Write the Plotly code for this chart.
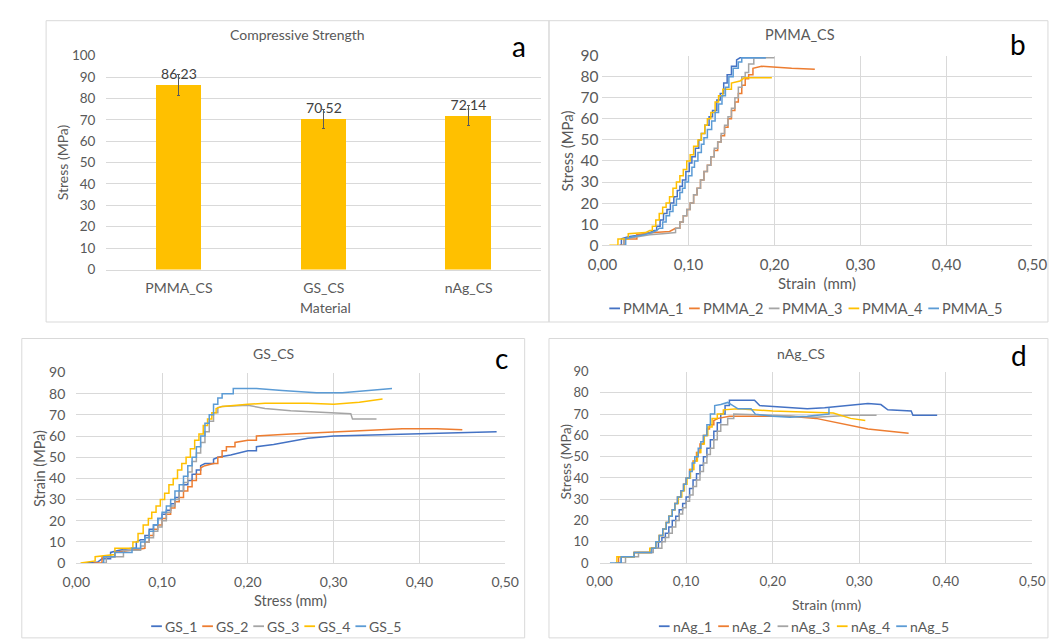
import plotly.graph_objects as go

# ---------------- data ----------------
materials = ["PMMA_CS", "GS_CS", "nAg_CS"]
cs_mean = [86.23, 70.52, 72.14]
cs_err = [5.0, 4.5, 4.6]

colors = ["#4472C4", "#ED7D31", "#A5A5A5", "#FFC000", "#5B9BD5"]

pmma_names = ["PMMA_1", "PMMA_2", "PMMA_3", "PMMA_4", "PMMA_5"]
PMMA_1_strain = [0.020, 0.022, 0.030, 0.045, 0.055, 0.060, 0.063, 0.067, 0.071, 0.075, 0.079, 0.083, 0.087, 0.090, 0.093, 0.097, 0.101, 0.104, 0.108, 0.112, 0.115, 0.119, 0.124, 0.128, 0.133, 0.137, 0.141, 0.145, 0.150, 0.156, 0.160, 0.175, 0.190]
PMMA_1_stress = [0, 3, 4, 5, 6, 7, 9, 12, 15, 17, 20, 23, 26, 28, 31, 35, 39, 42, 46, 50, 53, 57, 61, 64, 69, 72, 77, 81, 85, 88, 89, 89, 89]
PMMA_2_strain = [0.020, 0.025, 0.040, 0.060, 0.078, 0.085, 0.090, 0.094, 0.098, 0.102, 0.106, 0.110, 0.114, 0.118, 0.122, 0.126, 0.130, 0.134, 0.138, 0.142, 0.146, 0.150, 0.154, 0.158, 0.162, 0.166, 0.170, 0.175, 0.185, 0.200, 0.220, 0.247]
PMMA_2_stress = [0, 3, 5, 6, 6.5, 8, 11, 14, 17, 20, 24, 27, 31, 35, 38, 42, 45, 49, 52, 56, 60, 64, 68, 72, 76, 79, 81, 84, 85, 84.5, 84, 83.5]
PMMA_3_strain = [0.020, 0.025, 0.040, 0.055, 0.070, 0.080, 0.085, 0.090, 0.094, 0.098, 0.102, 0.106, 0.110, 0.114, 0.118, 0.122, 0.126, 0.130, 0.134, 0.138, 0.142, 0.146, 0.150, 0.154, 0.158, 0.162, 0.166, 0.170, 0.176, 0.185, 0.200]
PMMA_3_stress = [0, 3, 4, 5, 5.5, 6, 8, 11, 14, 17, 20, 24, 27, 31, 35, 38, 42, 46, 49, 53, 57, 61, 65, 70, 75, 80, 82, 86, 89, 89, 89]
PMMA_4_strain = [0.008, 0.018, 0.030, 0.050, 0.055, 0.058, 0.062, 0.066, 0.070, 0.074, 0.078, 0.082, 0.086, 0.090, 0.094, 0.098, 0.102, 0.106, 0.111, 0.115, 0.119, 0.122, 0.126, 0.131, 0.135, 0.140, 0.150, 0.160, 0.165, 0.180, 0.197]
PMMA_4_stress = [0, 3, 5.5, 6, 7, 9, 12, 15, 18, 20, 23, 27, 30, 33, 36, 40, 43, 47, 50, 53, 57, 60, 63, 68, 71, 74, 77, 78, 79.5, 79.5, 79.5]
PMMA_5_strain = [0.025, 0.027, 0.035, 0.048, 0.058, 0.063, 0.066, 0.070, 0.074, 0.078, 0.082, 0.086, 0.090, 0.093, 0.096, 0.100, 0.104, 0.107, 0.111, 0.115, 0.118, 0.122, 0.127, 0.131, 0.135, 0.139, 0.143, 0.147, 0.152, 0.158, 0.162, 0.175, 0.190]
PMMA_5_stress = [0, 3, 4, 5, 6, 7, 8, 11, 14, 16, 19, 22, 25, 27, 30, 33, 37, 40, 44, 48, 51, 55, 59, 63, 67, 71, 75, 80, 84, 87, 89, 89, 89]

gs_names = ["GS_1", "GS_2", "GS_3", "GS_4", "GS_5"]
GS_1_strain = [0.010, 0.025, 0.030, 0.040, 0.050, 0.065, 0.070, 0.075, 0.080, 0.085, 0.090, 0.095, 0.100, 0.105, 0.110, 0.115, 0.120, 0.125, 0.130, 0.135, 0.140, 0.145, 0.150, 0.160, 0.165, 0.180, 0.190, 0.200, 0.210, 0.230, 0.250, 0.270, 0.300, 0.350, 0.400, 0.450, 0.490]
GS_1_stress = [0, 0.5, 2, 5, 6, 7, 10, 11, 13, 16, 18, 21, 23, 25, 28, 31, 34, 37, 39, 42, 44, 46, 47, 49, 50, 51, 52, 53, 55, 56, 57.5, 59, 60, 60.5, 61, 61.5, 62]
GS_2_strain = [0.020, 0.030, 0.045, 0.060, 0.075, 0.080, 0.085, 0.090, 0.095, 0.100, 0.105, 0.110, 0.115, 0.120, 0.125, 0.130, 0.135, 0.140, 0.145, 0.150, 0.160, 0.165, 0.170, 0.175, 0.185, 0.200, 0.210, 0.250, 0.300, 0.340, 0.380, 0.420, 0.450]
GS_2_stress = [0, 3, 5, 6, 7, 10, 13, 16, 18, 21, 23, 26, 29, 31, 34, 36, 39, 42, 45, 46, 47, 50, 53, 55, 57, 58, 60, 61, 62, 63, 63.5, 63.5, 63]
GS_3_strain = [0.030, 0.035, 0.055, 0.075, 0.080, 0.085, 0.090, 0.095, 0.100, 0.105, 0.110, 0.115, 0.120, 0.125, 0.130, 0.135, 0.140, 0.145, 0.150, 0.155, 0.160, 0.165, 0.170, 0.200, 0.220, 0.250, 0.290, 0.320, 0.322, 0.350]
GS_3_stress = [0, 3, 6, 8, 10, 12, 15, 17, 20, 24, 27, 30, 34, 38, 43, 48, 52, 57, 62, 67, 71, 73.5, 74, 74.5, 73, 72, 71, 70.5, 68, 68]
GS_4_strain = [0.005, 0.020, 0.022, 0.040, 0.045, 0.060, 0.066, 0.072, 0.078, 0.084, 0.088, 0.093, 0.098, 0.103, 0.108, 0.113, 0.118, 0.123, 0.128, 0.133, 0.138, 0.143, 0.148, 0.153, 0.158, 0.163, 0.170, 0.200, 0.220, 0.270, 0.300, 0.330, 0.357]
GS_4_stress = [0, 1, 3, 4, 7, 7, 10, 14, 18, 21, 24, 27, 30, 33, 37, 40, 44, 47, 50, 54, 58, 61, 65, 68, 71, 73, 74, 75, 75.5, 75.5, 75, 76, 77.5]
GS_5_strain = [0.030, 0.032, 0.045, 0.065, 0.075, 0.080, 0.085, 0.090, 0.095, 0.100, 0.105, 0.110, 0.115, 0.120, 0.125, 0.130, 0.135, 0.140, 0.145, 0.150, 0.155, 0.160, 0.165, 0.170, 0.183, 0.210, 0.240, 0.280, 0.310, 0.340, 0.368]
GS_5_stress = [0, 3, 5, 7, 10, 12, 15, 18, 21, 24, 27, 30, 34, 37, 41, 46, 50, 55, 60, 66, 70, 75, 78, 80, 82.5, 82.5, 81.5, 80.5, 80.5, 81.5, 82.5]

nag_names = ["nAg_1", "nAg_2", "nAg_3", "nAg_4", "nAg_5"]
nAg_1_strain = [0.022, 0.025, 0.040, 0.060, 0.068, 0.072, 0.076, 0.080, 0.084, 0.088, 0.092, 0.096, 0.100, 0.104, 0.108, 0.112, 0.116, 0.120, 0.124, 0.128, 0.132, 0.136, 0.140, 0.145, 0.150, 0.165, 0.179, 0.185, 0.220, 0.240, 0.260, 0.290, 0.310, 0.325, 0.333, 0.360, 0.362, 0.390]
nAg_1_stress = [0, 3, 5, 7, 10, 12, 14, 17, 20, 22, 25, 28, 31, 35, 39, 42, 46, 50, 54, 58, 62, 66, 70, 74, 76.5, 76.5, 76.5, 74, 73, 72.5, 73, 74, 75, 74.5, 72, 71.5, 69.5, 69.5]
nAg_2_strain = [0.020, 0.022, 0.040, 0.060, 0.065, 0.069, 0.073, 0.077, 0.080, 0.084, 0.087, 0.090, 0.094, 0.097, 0.100, 0.104, 0.108, 0.112, 0.116, 0.120, 0.124, 0.127, 0.132, 0.137, 0.150, 0.180, 0.220, 0.250, 0.280, 0.310, 0.357]
nAg_2_stress = [0, 3, 5, 7, 10, 13, 16, 19, 22, 25, 28, 31, 34, 37, 40, 44, 48, 52, 56, 60, 63, 65, 67, 68, 69, 69, 69, 68, 65.5, 63, 61]
nAg_3_strain = [0.025, 0.030, 0.045, 0.062, 0.072, 0.076, 0.080, 0.084, 0.088, 0.092, 0.096, 0.100, 0.104, 0.108, 0.112, 0.116, 0.120, 0.124, 0.128, 0.132, 0.136, 0.140, 0.148, 0.155, 0.200, 0.250, 0.290, 0.320]
nAg_3_stress = [0, 3, 5, 7, 10, 12, 14, 17, 20, 23, 26, 29, 32, 36, 39, 43, 47, 51, 54, 58, 62, 65, 68, 70, 69.5, 68.5, 69.5, 69.5]
nAg_4_strain = [0.018, 0.020, 0.040, 0.058, 0.065, 0.069, 0.073, 0.077, 0.080, 0.084, 0.087, 0.091, 0.095, 0.098, 0.101, 0.105, 0.109, 0.113, 0.117, 0.121, 0.125, 0.130, 0.136, 0.143, 0.160, 0.200, 0.250, 0.270, 0.290, 0.307]
nAg_4_stress = [0, 3, 5, 7, 10, 13, 16, 19, 22, 25, 28, 31, 34, 37, 40, 44, 48, 52, 56, 60, 64, 68, 70, 72, 72.5, 71.5, 71, 70.5, 68, 67]
nAg_5_strain = [0.012, 0.022, 0.025, 0.040, 0.060, 0.065, 0.069, 0.073, 0.077, 0.080, 0.084, 0.087, 0.090, 0.094, 0.097, 0.100, 0.104, 0.107, 0.110, 0.114, 0.117, 0.120, 0.124, 0.128, 0.133, 0.140, 0.148, 0.160, 0.175, 0.180, 0.200, 0.220, 0.240, 0.260, 0.265]
nAg_5_stress = [0, 0, 3, 5, 7, 10, 13, 16, 19, 22, 25, 28, 31, 34, 37, 40, 43, 47, 50, 54, 57, 60, 65, 70, 74, 74.5, 75.5, 72.5, 72.5, 70, 69, 68.5, 69, 70, 73]

strain_ticks = [0.0, 0.1, 0.2, 0.3, 0.4, 0.5]

# ---------------- figure ----------------
W, H = 1060, 642
FONT = "Lato"
TXT = "#595959"
GRID = "#D9D9D9"
STEP_MIN = 2.0  # load increments of at least this size are drawn as a step


def fx(p):
    return p / W


def fy(p):
    return 1 - p / H


def staircase(xs, ys):
    """Draw load increments as steps (as the recorder does), small changes as lines."""
    ox, oy = [xs[0]], [ys[0]]
    for i in range(1, len(xs)):
        if ys[i] - ys[i - 1] >= STEP_MIN:
            ox.append(xs[i])
            oy.append(ys[i - 1])
        ox.append(xs[i])
        oy.append(ys[i])
    return ox, oy


fig = go.Figure()

# panel a: bars
fig.add_trace(go.Bar(
    x=materials, y=cs_mean,
    marker=dict(color="#FFC000", line=dict(width=0)),
    width=0.315,
    error_y=dict(type="data", array=cs_err, color="#595959", thickness=1, width=1.5),
    text=[f"{v:.2f}" for v in cs_mean], textposition="outside",
    textfont=dict(family=FONT, size=14, color="#404040"),
    cliponaxis=False, showlegend=False,
    xaxis="x", yaxis="y",
))

series_sets = [
    ("x2", "y2", pmma_names, [(PMMA_1_strain, PMMA_1_stress), (PMMA_2_strain, PMMA_2_stress),
                             (PMMA_3_strain, PMMA_3_stress), (PMMA_4_strain, PMMA_4_stress),
                             (PMMA_5_strain, PMMA_5_stress)]),
    ("x3", "y3", gs_names, [(GS_1_strain, GS_1_stress), (GS_2_strain, GS_2_stress),
                           (GS_3_strain, GS_3_stress), (GS_4_strain, GS_4_stress),
                           (GS_5_strain, GS_5_stress)]),
    ("x4", "y4", nag_names, [(nAg_1_strain, nAg_1_stress), (nAg_2_strain, nAg_2_stress),
                            (nAg_3_strain, nAg_3_stress), (nAg_4_strain, nAg_4_stress),
                            (nAg_5_strain, nAg_5_stress)]),
]
for xa, ya, names, data in series_sets:
    for name, col, (sx, sy) in zip(names, colors, data):
        px_, py_ = staircase(sx, sy)
        fig.add_trace(go.Scatter(
            x=px_, y=py_, name=name, mode="lines",
            line=dict(color=col, width=1.5),
            showlegend=False, xaxis=xa, yaxis=ya,
        ))


def strain_axis(domain, anchor, size):
    return dict(domain=domain, anchor=anchor, range=[0, 0.5], tickvals=strain_ticks,
                tickformat=".2f", showgrid=True, gridcolor=GRID, gridwidth=1,
                zeroline=False, showline=True, linecolor=GRID, linewidth=1,
                tickfont=dict(family=FONT, size=size, color=TXT), ticks="",
                ticklabelstandoff=6, fixedrange=True)


def stress_axis(domain, anchor, size, standoff):
    return dict(domain=domain, anchor=anchor, range=[0, 90], dtick=10,
                showgrid=True, gridcolor=GRID, gridwidth=1, zeroline=False,
                showline=False, tickfont=dict(family=FONT, size=size, color=TXT),
                ticks="", ticklabelstandoff=standoff, fixedrange=True)


fig.update_layout(
    width=W, height=H, autosize=False,
    margin=dict(l=0, r=0, t=0, b=0),
    paper_bgcolor="white", plot_bgcolor="white",
    separators=", ",
    font=dict(family=FONT, color=TXT),
    showlegend=False,
    bargap=0.0,
    xaxis=dict(domain=[fx(94), fx(541)], anchor="y", type="category",
               showgrid=False, showline=True, linecolor=GRID, linewidth=1,
               tickfont=dict(family=FONT, size=14, color=TXT), ticks="",
               ticklabelstandoff=6, fixedrange=True),
    yaxis=dict(domain=[fy(267), fy(47)], anchor="x", range=[0, 100], dtick=10,
               showgrid=True, gridcolor=GRID, zeroline=False, showline=False,
               tickfont=dict(family=FONT, size=13.5, color=TXT), ticks="",
               ticklabelstandoff=10, fixedrange=True),
    xaxis2=strain_axis([fx(604), fx(1046)], "y2", 15),
    yaxis2=stress_axis([fy(242), fy(47)], "x2", 15.5, 3),
    xaxis3=strain_axis([fx(63), fx(504)], "y3", 14),
    yaxis3=stress_axis([fy(569), fy(373)], "x3", 14, 10),
    xaxis4=strain_axis([fx(601), fx(1046)], "y4", 13.5),
    yaxis4=stress_axis([fy(569), fy(372)], "x4", 13, 10),
)

# panel frames
frames = [(32, 11, 549, 321), (549, 11, 1062, 321), (7, 338, 524, 646), (549, 338, 1062, 646)]
for x0, y0, x1, y1 in frames:
    fig.add_shape(type="rect", xref="paper", yref="paper",
                  x0=fx(x0), x1=fx(x1), y0=fy(y1), y1=fy(y0),
                  line=dict(color=GRID, width=1), fillcolor="rgba(0,0,0,0)", layer="below")

annotations = []


def text(x, y, s, size=13, color=TXT, angle=0, xanchor="center"):
    annotations.append(dict(x=fx(x), y=fy(y), xref="paper", yref="paper", text=s,
                            showarrow=False, xanchor=xanchor, yanchor="middle",
                            textangle=angle, font=dict(family=FONT, size=size, color=color)))


# titles
text(290, 25, "Compressive Strength", 14)
text(807, 25, "PMMA_CS", 14.5)
text(266, 353, "GS_CS", 14)
text(808, 353, "nAg_CS", 14)
# panel letters
text(518, 37, "a", 28, "black")
text(1031, 35, "b", 28, "black")
text(500, 358, "c", 28, "black")
text(1032, 355, "d", 28, "black")
# axis titles
text(49, 157, "Stress (MPa)", 14, angle=-90)
text(319, 306, "Material", 14)
text(567, 145, "Stress (MPa)", 15, angle=-90)
text(825, 281, "Strain&nbsp;&nbsp;(mm)", 15)
text(25, 472, "Strain (MPa)", 14.5, angle=-90)
text(283, 608, "Stress (mm)", 14.5)
text(566, 465, "Stress (MPa)", 14, angle=-90)
text(834, 612, "Strain (mm)", 14)

# legends: short coloured line key followed by the series name
LEG_LINE = 11
legend_specs = [(pmma_names, 611, 82, 307, 14.5), (gs_names, 140, 52.5, 634, 14), (nag_names, 662, 61, 634, 14)]
for names, start, step, ly, size in legend_specs:
    for i, (name, col) in enumerate(zip(names, colors)):
        lx = start + i * step
        fig.add_shape(type="line", xref="paper", yref="paper",
                      x0=fx(lx), x1=fx(lx + LEG_LINE), y0=fy(ly), y1=fy(ly),
                      line=dict(color=col, width=1.8))
        text(lx + LEG_LINE + 1, ly, name, size, xanchor="left")

fig.update_layout(annotations=annotations)
fig.write_html("out.html", config={"displayModeBar": False},
               post_script="document.body.style.margin='0px';document.body.style.overflow='hidden';")
